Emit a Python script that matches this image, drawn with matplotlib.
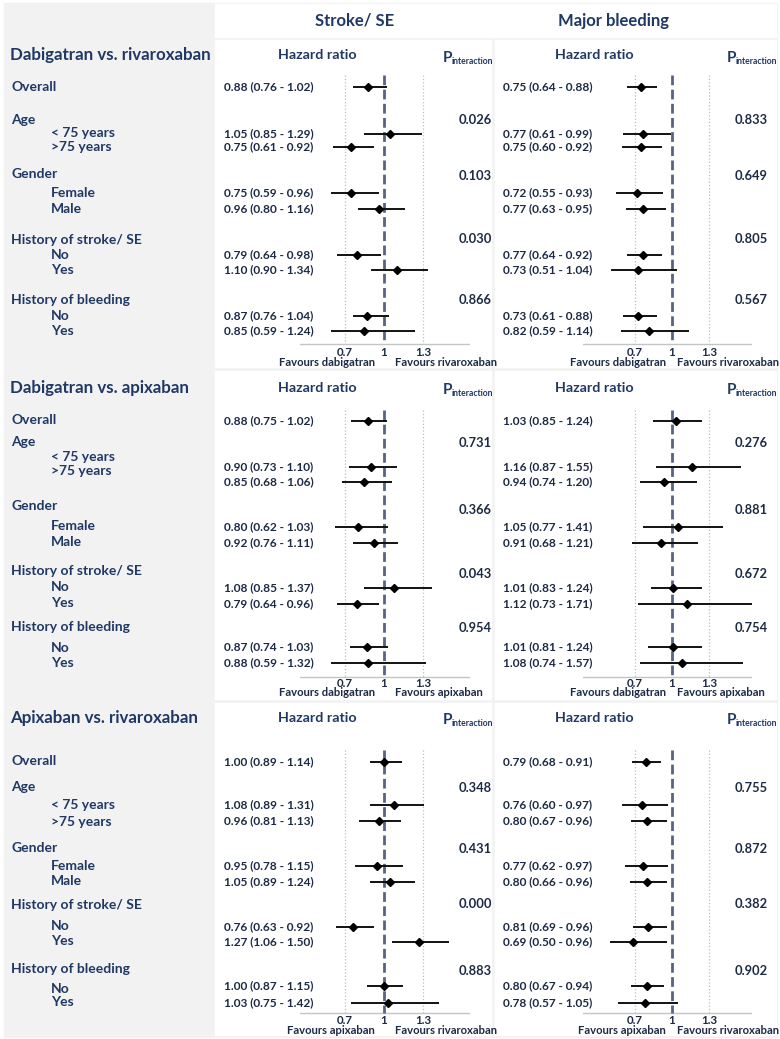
import matplotlib.pyplot as plt
from matplotlib.patches import Rectangle

plt.rcParams['font.family'] = ['Lato', 'DejaVu Sans']

# ---------------- data ----------------
comparisons = ["Dabigatran vs. rivaroxaban", "Dabigatran vs. apixaban", "Apixaban vs. rivaroxaban"]
outcomes = ["Stroke/ SE", "Major bleeding"]
groups = ["Overall", "Age", "Gender", "History of stroke/ SE", "History of bleeding"]
subgroups = ["< 75 years", ">75 years", "Female", "Male", "No", "Yes", "No", "Yes"]
favours = [("Favours dabigatran", "Favours rivaroxaban"),
           ("Favours dabigatran", "Favours apixaban"),
           ("Favours apixaban", "Favours rivaroxaban")]
ticks = [0.7, 1, 1.3]

# rows: overall, <75, >75, female, male, stroke no, stroke yes, bleed no, bleed yes
stroke_hr = [[0.88, 1.05, 0.75, 0.75, 0.96, 0.79, 1.10, 0.87, 0.85],
             [0.88, 0.90, 0.85, 0.80, 0.92, 1.08, 0.79, 0.87, 0.88],
             [1.00, 1.08, 0.96, 0.95, 1.05, 0.76, 1.27, 1.00, 1.03]]
stroke_lo = [[0.76, 0.85, 0.61, 0.59, 0.80, 0.64, 0.90, 0.76, 0.59],
             [0.75, 0.73, 0.68, 0.62, 0.76, 0.85, 0.64, 0.74, 0.59],
             [0.89, 0.89, 0.81, 0.78, 0.89, 0.63, 1.06, 0.87, 0.75]]
stroke_hi = [[1.02, 1.29, 0.92, 0.96, 1.16, 0.98, 1.34, 1.04, 1.24],
             [1.02, 1.10, 1.06, 1.03, 1.11, 1.37, 0.96, 1.03, 1.32],
             [1.14, 1.31, 1.13, 1.15, 1.24, 0.92, 1.50, 1.15, 1.42]]
stroke_p = [["0.026", "0.103", "0.030", "0.866"],
            ["0.731", "0.366", "0.043", "0.954"],
            ["0.348", "0.431", "0.000", "0.883"]]

bleed_hr = [[0.75, 0.77, 0.75, 0.72, 0.77, 0.77, 0.73, 0.73, 0.82],
            [1.03, 1.16, 0.94, 1.05, 0.91, 1.01, 1.12, 1.01, 1.08],
            [0.79, 0.76, 0.80, 0.77, 0.80, 0.81, 0.69, 0.80, 0.78]]
bleed_lo = [[0.64, 0.61, 0.60, 0.55, 0.63, 0.64, 0.51, 0.61, 0.59],
            [0.85, 0.87, 0.74, 0.77, 0.68, 0.83, 0.73, 0.81, 0.74],
            [0.68, 0.60, 0.67, 0.62, 0.66, 0.69, 0.50, 0.67, 0.57]]
bleed_hi = [[0.88, 0.99, 0.92, 0.93, 0.95, 0.92, 1.04, 0.88, 1.14],
            [1.24, 1.55, 1.20, 1.41, 1.21, 1.24, 1.71, 1.24, 1.57],
            [0.91, 0.97, 0.96, 0.97, 0.96, 0.96, 0.96, 0.94, 1.05]]
bleed_p = [["0.833", "0.649", "0.805", "0.567"],
           ["0.276", "0.881", "0.672", "0.754"],
           ["0.755", "0.872", "0.382", "0.902"]]

# ---------------- layout (pixels) ----------------
W, H = 780, 1039
NAVY = '#1f3864'
DARK = '#1c2a45'

panel_y = [(40, 367), (371, 699), (703, 1035)]
col_x = [(215, 491), (495, 776)]
title_y = [55, 388, 718]
p_head_y = [58, 390, 720]
group_y = [[87, 120, 174, 240, 300], [420, 442, 506, 571, 627], [761, 787, 848, 905, 969]]
sub_y = [[133, 147, 193, 209, 255, 270, 316, 331],
         [457, 471, 526, 542, 587, 603, 648, 663],
         [805, 822, 866, 881, 926, 941, 989, 1002]]
row_y = [[87, 134, 147, 193, 209, 255, 270, 316, 331],
         [421, 467, 482, 527, 543, 588, 604, 647, 663],
         [762, 805, 821, 866, 882, 927, 942, 986, 1003]]
p_y = [[120, 176, 239, 300], [443, 510, 574, 628], [788, 849, 904, 971]]
vl_top = [75, 410, 750]
base_y = [344, 677, 1013]
tick_y = [352, 684, 1020]
fav_y = [362, 693, 1030]

# forest axes geometry per column: pixel of HR=1, px per unit, xlim
one_px = [384, 672]
scale_px = [130, 125]
xlims = [(0.354, 1.66), (0.29, 1.64)]
fav_gap = [(9, 11), (6, 5)]
hr_text_x = [224, 503]
hr_head_x = [317, 594]
p_head_x = [443, 727]
p_val_x = [475, 751]

fig = plt.figure(figsize=(W / 100, H / 100), dpi=100)
fig.patch.set_facecolor('white')
ax0 = fig.add_axes([0, 0, 1, 1])
ax0.set_xlim(0, W)
ax0.set_ylim(H, 0)
ax0.axis('off')

ax0.add_patch(Rectangle((4, 3), 773, 1034, color='#f2f2f2', zorder=0))
ax0.add_patch(Rectangle((215, 4), 561, 33, color='white', zorder=1))
for (y0, y1) in panel_y:
    for (x0, x1) in col_x:
        ax0.add_patch(Rectangle((x0, y0), x1 - x0, y1 - y0, color='white', zorder=1))

ax0.text(355, 21, outcomes[0], fontsize=12, fontweight='bold', color=NAVY, ha='center', va='center', zorder=3)
ax0.text(614, 21, outcomes[1], fontsize=12, fontweight='bold', color=NAVY, ha='center', va='center', zorder=3)

data_sets = [(stroke_hr, stroke_lo, stroke_hi, stroke_p), (bleed_hr, bleed_lo, bleed_hi, bleed_p)]

for s in range(3):
    # left label column
    ax0.text(10, title_y[s], comparisons[s], fontsize=12.2, fontweight='bold', color=NAVY,
             ha='left', va='center', zorder=3)
    for g, name in enumerate(groups):
        ax0.text(11, group_y[s][g], name, fontsize=10, fontweight='bold', color=NAVY,
                 ha='left', va='center', zorder=3)
    for k, name in enumerate(subgroups):
        ax0.text(51, sub_y[s][k], name, fontsize=10, fontweight='bold', color=NAVY,
                 ha='left', va='center', zorder=3)

    for c in range(2):
        hr, lo, hi, pv = [d[s] for d in data_sets[c]]
        ax0.text(hr_head_x[c], title_y[s], "Hazard ratio", fontsize=10.3, fontweight='bold',
                 color=NAVY, ha='center', va='center', zorder=3)
        ax0.text(p_head_x[c], p_head_y[s], "P", fontsize=11, fontweight='bold',
                 color=NAVY, ha='left', va='center', zorder=3)
        ax0.text(p_head_x[c] + 8.5, p_head_y[s] + 3, "interaction", fontsize=6.2, fontweight='bold',
                 color=NAVY, ha='left', va='center', zorder=3)
        for r in range(9):
            txt = f"{hr[r]:.2f} ({lo[r]:.2f} - {hi[r]:.2f})"
            ax0.text(hr_text_x[c], row_y[s][r], txt, fontsize=8.6, fontweight='bold',
                     color=DARK, ha='left', va='center', zorder=3)
        for g in range(4):
            ax0.text(p_val_x[c], p_y[s][g], pv[g], fontsize=9.3, fontweight='bold',
                     color=DARK, ha='center', va='center', zorder=3)

        # forest axes
        xl0, xl1 = xlims[c]
        left_px = one_px[c] + (xl0 - 1) * scale_px[c]
        width_px = (xl1 - xl0) * scale_px[c]
        y0, y1 = panel_y[s]
        ax = fig.add_axes([left_px / W, 1 - y1 / H, width_px / W, (y1 - y0) / H])
        ax.set_xlim(xl0, xl1)
        ax.set_ylim(y1, y0)
        ax.axis('off')
        ax.patch.set_alpha(0)

        for t in (0.7, 1.3):
            ax.plot([t, t], [vl_top[s], base_y[s]], color='#bdbdbd', lw=0.9, ls=':', zorder=2)
        ax.plot([1, 1], [vl_top[s], base_y[s]], color='#56647f', lw=2, ls=(0, (3.5, 1.6)), zorder=3)
        ax.plot([xl0, xl1], [base_y[s], base_y[s]], color='#c4c4c4', lw=1, zorder=2)

        ax.hlines(row_y[s], lo, hi, color='#111111', lw=1.4, zorder=4)
        ax.plot(hr, row_y[s], 'D', color='black', ms=4.5, zorder=5)

        for t in ticks:
            ax.text(t, tick_y[s], f"{t:g}", fontsize=8.3, fontweight='bold', color=DARK,
                    ha='center', va='center')
        gl, gr = fav_gap[c]
        ax.text(1 - gl / scale_px[c], fav_y[s], favours[s][0], fontsize=8.1, fontweight='bold',
                color=DARK, ha='right', va='center', clip_on=False)
        ax.text(1 + gr / scale_px[c], fav_y[s], favours[s][1], fontsize=8.1, fontweight='bold',
                color=DARK, ha='left', va='center', clip_on=False)

fig.savefig("out.png", dpi=100)
